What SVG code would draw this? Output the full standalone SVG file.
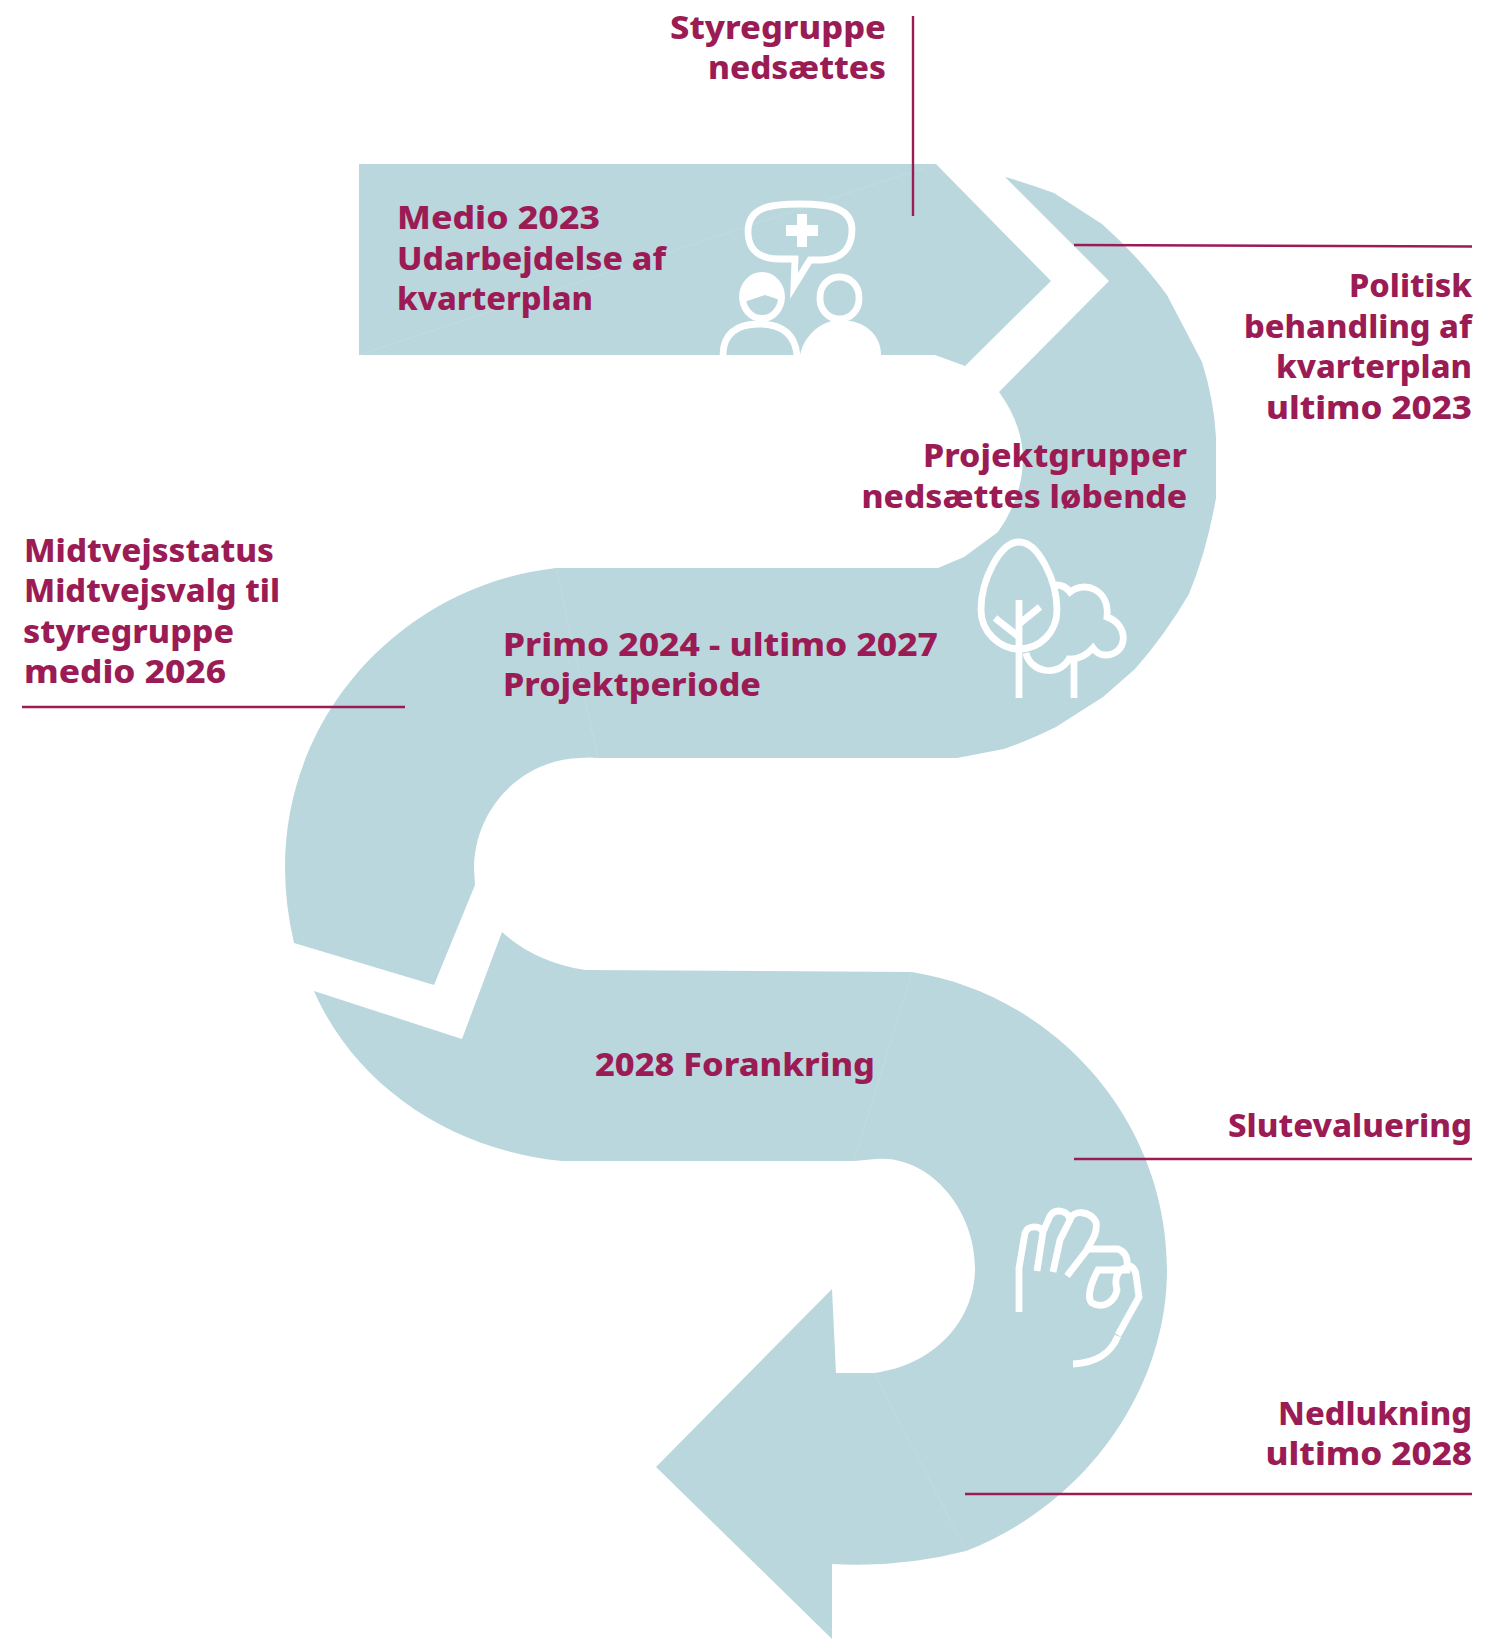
<svg xmlns="http://www.w3.org/2000/svg" width="1494" height="1639" viewBox="0 0 1494 1639">
<style>
.band{fill:#bbd7de}
.seam{fill:none;stroke:#c6dee3;stroke-width:.6}
.ico{fill:none;stroke:#fff;stroke-width:6.8}
.wf{fill:#fff}
.lead{fill:none;stroke:#9b1b55;stroke-width:2.4}
text{font-family:"Noto Sans","Liberation Sans",sans-serif;font-weight:800;font-size:32px;fill:#9b1b55}
</style>
<rect width="1494" height="1639" fill="#fff"/>
<g id="band">
<path id="segment-1" class="band" d="M359 164H936L1051 281L965 366L935 355H359Z"/>
<path id="segment-2" class="band" d="M1005 177Q1030 184 1054 193L1102 224Q1140 258 1167 295L1202 362Q1214 400 1216 437V498Q1207 550 1189 594Q1165 635 1135 669L1103 697L1056 727Q1030 740 1004 749L957 758H598Q590 757 580 758C520 760 474 810 474 869L475 885L434 985L294 943Q285 905 285 867C285 712 405 585 556 568H938L964 557L998 532Q1022 498 1023 460Q1023 425 999 392L1109 281Z"/>
<path id="segment-3" class="band" d="M314 991L462 1039L502 932Q535 962 585 970L912 972C1055 995 1167 1120 1167 1270C1167 1390 1085 1505 966 1551Q900 1568 832 1564V1639L656 1467L832 1289L836 1373H874C935 1365 975 1320 975 1268C975 1210 930 1155 876 1159L854 1161H562C450 1150 355 1085 314 991Z"/>
<path class="seam" d="M359 355L936 164M556 568L598 758M912 972L854 1161M874 1373L966 1550"/>
</g>
<g id="icon-people">
<path class="ico" d="M800 204C770 204 748 207 748 232C748 252 762 259 780 259H795L794 286L810 260H822C842 259 852 248 852 230C852 208 830 204 800 204Z"/>
<path class="wf" d="M786 225H797V214H807V225H818V236H807V247H797V236H786Z"/>
<ellipse class="ico" cx="762" cy="297" rx="19.5" ry="21.5"/>
<path class="wf" d="M744 302L765 295L780 300C782 286 775 275 762 275C748 275 741 288 744 302Z"/>
<rect class="ico" x="820" y="277" width="39" height="42" rx="19" ry="20"/>
<path class="ico" d="M723 355C723 335 735 324 759 324C783 324 795 335 797 355"/>
<path class="wf" d="M800 355C804 335 822 320 840 320C865 320 881 335 881 355Z"/>
</g>
<g id="icon-trees">
<path class="ico" d="M1019 542C1000 542 981 580 981 610C981 632 1000 649 1019 649C1040 649 1057 632 1057 610C1057 580 1038 542 1019 542Z"/>
<path class="ico" d="M1019 600V698M995 618L1019 637M1040 607L1019 624"/>
<path class="ico" d="M1056 585Q1065 585 1070 592C1085 580 1110 590 1107 617C1130 625 1128 655 1105 655Q1098 655 1093 648Q1082 660 1069 659C1058 678 1030 672 1026 653M1074 662V698"/>
</g>
<g id="icon-hand">
<path class="ico" d="M1019 1312V1268L1025 1233C1028 1225 1040 1225 1043 1232L1037 1271M1043 1232L1050 1216C1055 1208 1068 1210 1070 1220L1060 1240L1053 1272M1070 1220C1073 1209 1090 1211 1096 1222C1098 1235 1090 1242 1087 1250L1067 1276"/>
<path class="ico" d="M1087 1249H1118C1127 1252 1128 1262 1127 1270H1098C1090 1285 1087 1298 1092 1303C1105 1310 1115 1300 1117 1290C1113 1275 1120 1268 1130 1266Q1135 1268 1136 1275L1139 1297L1118 1335"/>
<path class="ico" d="M1118 1336C1110 1355 1095 1363 1073 1364"/>
</g>
<g id="connectors">
<path class="lead" d="M913 16V216"/>
<path class="lead" d="M1074 245L1472 246.5"/>
<path class="lead" d="M22 707H405"/>
<path class="lead" d="M1074 1159H1472"/>
<path class="lead" d="M965 1494H1472"/>
</g>
<g id="labels">
<g id="label-styregruppe"><text x="670" y="38.5" textLength="216" lengthAdjust="spacingAndGlyphs">Styregruppe</text><text x="708" y="78.5" textLength="178" lengthAdjust="spacingAndGlyphs">nedsættes</text></g>
<g id="label-politisk"><text x="1349" y="296.5" textLength="123" lengthAdjust="spacingAndGlyphs">Politisk</text><text x="1244" y="337.5" textLength="228" lengthAdjust="spacingAndGlyphs">behandling af</text><text x="1276" y="377.5" textLength="196" lengthAdjust="spacingAndGlyphs">kvarterplan</text><text x="1266" y="418.5" textLength="206" lengthAdjust="spacingAndGlyphs">ultimo 2023</text></g>
<g id="label-projektgrupper"><text x="923" y="467" textLength="264" lengthAdjust="spacingAndGlyphs">Projektgrupper</text><text x="861.5" y="508" textLength="325.5" lengthAdjust="spacingAndGlyphs">nedsættes løbende</text></g>
<g id="label-medio"><text x="397" y="229" textLength="203" lengthAdjust="spacingAndGlyphs">Medio 2023</text><text x="397" y="269.5" textLength="269" lengthAdjust="spacingAndGlyphs">Udarbejdelse af</text><text x="397" y="309.5" textLength="196" lengthAdjust="spacingAndGlyphs">kvarterplan</text></g>
<g id="label-midtvejs"><text x="24" y="562" textLength="250" lengthAdjust="spacingAndGlyphs">Midtvejsstatus</text><text x="24" y="601.5" textLength="256" lengthAdjust="spacingAndGlyphs">Midtvejsvalg til</text><text x="23" y="643" textLength="211" lengthAdjust="spacingAndGlyphs">styregruppe</text><text x="24" y="682.5" textLength="202" lengthAdjust="spacingAndGlyphs">medio 2026</text></g>
<g id="label-primo"><text x="503" y="655.5" textLength="435" lengthAdjust="spacingAndGlyphs">Primo 2024 - ultimo 2027</text><text x="503" y="695.5" textLength="258" lengthAdjust="spacingAndGlyphs">Projektperiode</text></g>
<g id="label-forankring"><text x="595" y="1075.5" textLength="280" lengthAdjust="spacingAndGlyphs">2028 Forankring</text></g>
<g id="label-slutevaluering"><text x="1228" y="1137" textLength="244" lengthAdjust="spacingAndGlyphs">Slutevaluering</text></g>
<g id="label-nedlukning"><text x="1278" y="1425" textLength="194" lengthAdjust="spacingAndGlyphs">Nedlukning</text><text x="1265.5" y="1465" textLength="206.5" lengthAdjust="spacingAndGlyphs">ultimo 2028</text></g>
</g>
</svg>
